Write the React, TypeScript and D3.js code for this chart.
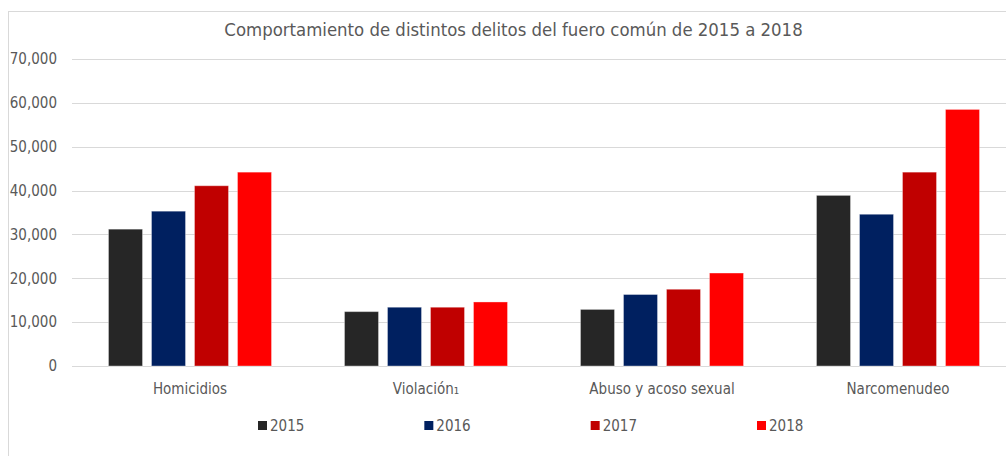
import React from "react";
import * as d3 from "d3";

const categories = ["Homicidios", "Violación₁", "Abuso y acoso sexual", "Narcomenudeo"];
const seriesNames = ["2015", "2016", "2017", "2018"];
const values2015 = [31200, 12400, 12900, 38900];
const values2016 = [35300, 13400, 16300, 34600];
const values2017 = [41100, 13400, 17500, 44200];
const values2018 = [44200, 14600, 21200, 58500];
const seriesColors = ["#262626", "#002060", "#C00000", "#FF0000"];
const yTicks = [0, 10000, 20000, 30000, 40000, 50000, 60000, 70000];
const title = "Comportamiento de distintos delitos del fuero común de 2015 a 2018";

const seriesValues = [values2015, values2016, values2017, values2018];

const W = 1006;
const H = 456;
const FONT = "'DejaVu Sans Condensed', 'DejaVu Sans', sans-serif";

export default function App() {
  const x0 = d3.scaleBand<string>().domain(categories).range([72, 1016]).paddingInner(0).paddingOuter(0);
  const x1 = d3.scaleBand<string>().domain(seriesNames).range([-86, 86]).paddingInner(0.209).paddingOuter(0.1045);
  const y = d3.scaleLinear().domain([0, 70000]).range([366, 59]);
  const fmt = d3.format(",");
  const legendX = d3.scalePoint<string>().domain(seriesNames).range([258, 757]);

  return (
    <svg width={W} height={H} style={{ position: "absolute", left: 0, top: 0, background: "#fff" }} fontFamily={FONT}>
      <rect x={8.5} y={11.5} width={1100} height={500} fill="#fff" stroke="#d9d9d9" strokeWidth={1} />
      <text x={513.5} y={36} textAnchor="middle" fontSize={18.4} fill="#595959">{title}</text>
      {yTicks.map((t) => (
        <g key={t}>
          <line x1={72} x2={W} y1={Math.round(y(t)) + 0.5} y2={Math.round(y(t)) + 0.5} stroke="#d9d9d9" strokeWidth={1} />
          <text x={57} y={y(t)} dy="0.35em" textAnchor="end" fontSize={15} fill="#595959">{fmt(t)}</text>
        </g>
      ))}
      {categories.map((c, ci) => {
        const cx = (x0(c) as number) + x0.bandwidth() / 2;
        return (
          <g key={c}>
            {seriesNames.map((s, si) => {
              const v = seriesValues[si][ci];
              const bx = cx + (x1(s) as number);
              return (
                <rect key={s} x={bx} y={y(v)} width={x1.bandwidth()} height={y(0) - y(v)} fill={seriesColors[si]} stroke="#ffffff" strokeOpacity={0.35} strokeWidth={1} />
              );
            })}
            <text x={cx} y={389} dy="0.35em" textAnchor="middle" fontSize={15} fill="#595959">{c}</text>
          </g>
        );
      })}
      {seriesNames.map((s, si) => {
        const lx = legendX(s) as number;
        return (
          <g key={s}>
            <rect x={lx} y={421} width={9} height={9} fill={seriesColors[si]} />
            <text x={lx + 12} y={426} dy="0.35em" fontSize={15} fill="#595959">{s}</text>
          </g>
        );
      })}
    </svg>
  );
}
